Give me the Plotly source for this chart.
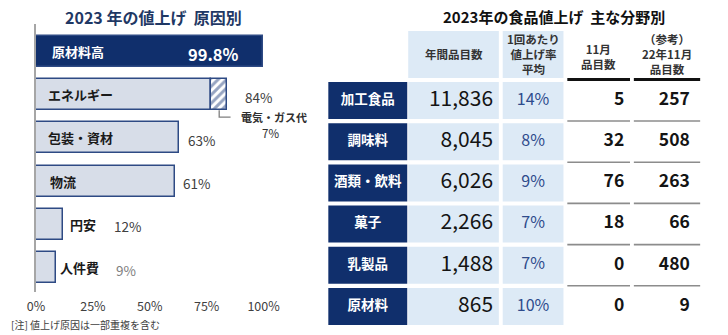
import plotly.graph_objects as go

# ---------------- data ----------------
cause_labels = ["原材料高", "エネルギー", "包装・資材", "物流", "円安", "人件費"]
cause_values = [99.8, 84, 63, 61, 12, 9]
energy_sub_label = "電気・ガス代"
energy_sub_value = 7
x_tick_vals = [0, 25, 50, 75, 100]
x_tick_text = ["0%", "25%", "50%", "75%", "100%"]

tbl_categories = ["加工食品", "調味料", "酒類・飲料", "菓子", "乳製品", "原材料"]
tbl_annual = [11836, 8045, 6026, 2266, 1488, 865]
tbl_rate = [14, 8, 9, 7, 7, 10]
tbl_nov = [5, 32, 76, 18, 0, 0]
tbl_ref22 = [257, 508, 263, 66, 480, 9]
tbl_headers = ["", "年間品目数", "1回あたり<br>値上げ率<br>平均", "11月<br>品目数", "（参考）<br>22年11月<br>品目数"]

left_title = "2023 年の値上げ  原因別"
right_title = "2023年の食品値上げ  主な分野別"
note_text = "[注] 値上げ原因は一部重複を含む"

# ---------------- styles ----------------
FONT = "Noto Sans CJK JP"
NAVY = "#102f6c"
BAR_FILL = "#d7dde8"
BAR_LINE = "#2e4a84"
LIGHT_BLUE = "#ddeaf6"
PCT_BLUE = "#2e4b8c"
W, H = 728, 335

def px_y(p):
    return 1 - p / H

fig = go.Figure()

# ---------- left chart ----------
idx = list(range(len(cause_labels)))
main_x = [v - energy_sub_value if i == 1 else v for i, v in enumerate(cause_values)]
fills = [NAVY] + [BAR_FILL] * (len(cause_labels) - 1)
fig.add_trace(go.Bar(
    x=main_x, y=idx, orientation="h", width=0.72,
    marker=dict(color=fills, line=dict(color=BAR_LINE, width=1.5)),
    hoverinfo="skip", xaxis="x", yaxis="y", showlegend=False))
fig.add_trace(go.Bar(
    x=[energy_sub_value], y=[1], base=[cause_values[1] - energy_sub_value],
    orientation="h", width=0.72,
    marker=dict(color="white", line=dict(color=BAR_LINE, width=1.5),
                pattern=dict(shape="/", fgcolor=BAR_LINE, bgcolor="white", size=6, solidity=0.5)),
    hoverinfo="skip", xaxis="x", yaxis="y", showlegend=False))

cat_inside = [True, True, True, True, False, False]
cat_shift = [14, 10, 10, 12, 5, 2]
val_shift = [-22, 16, 7, 6, 49, 58]
val_colors = ["white", "#404040", "#404040", "#404040", "#404040", "#808080"]
anns = []
for i, (lab, v) in enumerate(zip(cause_labels, cause_values)):
    anns.append(dict(
        x=0 if cat_inside[i] else v, y=i, xref="x", yref="y",
        text=f"<b>{lab}</b>", showarrow=False, xanchor="left", xshift=cat_shift[i],
        font=dict(family=FONT, size=13, color="white" if i == 0 else "#1a1a1a")))
    txt = f"{v}%" if i == 0 else f"{v:g}%"
    anns.append(dict(
        x=v, y=i + 0.05, xref="x", yref="y",
        text=f"<b>{txt}</b>" if i == 0 else txt, showarrow=False,
        xanchor="right" if i == 0 else "left", xshift=val_shift[i],
        font=dict(family=FONT, size=16.5 if i == 0 else 13.5, color=val_colors[i])))

# 電気・ガス代 callout (anchored at the energy bar end, shifted in pixels)
anns.append(dict(
    x=cause_values[1], y=1.52, xref="x", yref="y",
    text=f"<b>{energy_sub_label}</b>", showarrow=False,
    xanchor="center", yanchor="middle", xshift=47,
    font=dict(family=FONT, size=11, color="#303030")))
anns.append(dict(
    x=cause_values[1], y=1.88, xref="x", yref="y",
    text=f"{energy_sub_value}%", showarrow=False,
    xanchor="center", yanchor="middle", xshift=43,
    font=dict(family=FONT, size=11.5, color="#303030")))
conn_x0 = cause_values[1] - energy_sub_value / 2
fig.add_shape(type="path", xref="x", yref="y",
              path=f"M {conn_x0} 1.36 L {conn_x0} 1.52 L {cause_values[1] + 1.5} 1.52",
              line=dict(color="#7f7f7f", width=1.3))

anns.append(dict(x=150 / W, y=px_y(17), xref="paper", yref="paper", text=f"<b>{left_title}</b>",
                 showarrow=False, xanchor="center", yanchor="middle",
                 font=dict(family=FONT, size=16, color="#1f3864")))
anns.append(dict(x=0, y=px_y(324), xref="paper", yref="paper", text=note_text,
                 showarrow=False, xanchor="left", yanchor="middle",
                 font=dict(family=FONT, size=10, color="#404040")))

# ---------- right table ----------
col_bounds = [(0, 82), (83, 177), (181, 244), (248, 313), (317, 386)]
HEADER_H = 47
ROW_TOP0 = 51
ROW_PITCH = 41.2
ROW_H = 37
TBL_W = 386
TBL_H = 294

shapes = []
for c in (1, 2):
    x0, x1 = col_bounds[c]
    shapes.append(dict(type="rect", xref="x2", yref="y2", x0=x0, x1=x1, y0=0, y1=HEADER_H,
                       fillcolor=LIGHT_BLUE, line=dict(width=0), layer="below"))
for c in (3, 4):
    x0, x1 = col_bounds[c]
    shapes.append(dict(type="line", xref="x2", yref="y2", x0=x0, x1=x1, y0=HEADER_H + 1.5, y1=HEADER_H + 1.5,
                       line=dict(color="#111111", width=3)))

n = len(tbl_categories)
row_centers = []
for r in range(n):
    top = ROW_TOP0 + r * ROW_PITCH
    bot = top + ROW_H
    row_centers.append((top + bot) / 2)
    x0, x1 = col_bounds[0]
    shapes.append(dict(type="rect", xref="x2", yref="y2", x0=x0, x1=x1, y0=top, y1=bot,
                       fillcolor=NAVY, line=dict(width=0), layer="below"))
    for c in (1, 2):
        x0, x1 = col_bounds[c]
        shapes.append(dict(type="rect", xref="x2", yref="y2", x0=x0, x1=x1, y0=top, y1=bot,
                           fillcolor=LIGHT_BLUE, line=dict(width=0), layer="below"))
    if r < n - 1:
        for c in (3, 4):
            x0, x1 = col_bounds[c]
            shapes.append(dict(type="line", xref="x2", yref="y2", x0=x0, x1=x1, y0=bot + 2, y1=bot + 2,
                               line=dict(color="#8c8c8c", width=1.6)))
for s in shapes:
    fig.add_shape(**s)

for c in range(1, 5):
    x0, x1 = col_bounds[c]
    anns.append(dict(x=(x0 + x1) / 2, y=HEADER_H / 2 if c != 3 else HEADER_H / 2 + 2,
                     xref="x2", yref="y2", text=f"<b>{tbl_headers[c]}</b>",
                     showarrow=False, xanchor="center", yanchor="middle", align="center",
                     font=dict(family=FONT, size=11.5, color="#333333")))

def text_trace(xs, ys, texts, pos, size, color):
    fig.add_trace(go.Scatter(x=xs, y=ys, text=texts, mode="text", textposition=pos,
                             textfont=dict(family=FONT, size=size, color=color),
                             xaxis="x2", yaxis="y2", hoverinfo="skip", showlegend=False,
                             cliponaxis=False))

text_trace([41] * n, row_centers, [f"<b>{t}</b>" for t in tbl_categories], "middle center", 13.5, "white")
text_trace([col_bounds[1][1] - 6] * n, row_centers, [f"{v:,}" for v in tbl_annual], "middle left", 21, "#141414")
text_trace([(col_bounds[2][0] + col_bounds[2][1]) / 2] * n, row_centers, [f"{v}%" for v in tbl_rate],
           "middle center", 16, PCT_BLUE)
text_trace([col_bounds[3][1] - 6] * n, row_centers, [f"<b>{v:,}</b>" for v in tbl_nov], "middle left", 17.5, "#141414")
text_trace([col_bounds[4][1] - 11] * n, row_centers, [f"<b>{v:,}</b>" for v in tbl_ref22], "middle left", 17.5, "#141414")

anns.append(dict(x=565 / W, y=px_y(16), xref="paper", yref="paper", text=f"<b>{right_title}</b>",
                 showarrow=False, xanchor="center", yanchor="middle",
                 font=dict(family=FONT, size=15, color="#111111")))

# ---------- layout ----------
y_top_px, y_bot_px = 24, 292
c0, pitch = 51.5, 43.2
fig.update_layout(
    width=W, height=H, margin=dict(l=0, r=0, t=0, b=0),
    paper_bgcolor="white", plot_bgcolor="white", barmode="overlay", bargap=0,
    xaxis=dict(domain=[28 / W, 264 / W], range=[0, 100], tickvals=x_tick_vals, ticktext=x_tick_text,
               showgrid=False, zeroline=False, showline=False, ticks="", fixedrange=True,
               ticklabelstandoff=5,
               tickfont=dict(family=FONT, size=12.5, color="#404040")),
    yaxis=dict(domain=[px_y(y_bot_px), px_y(y_top_px)],
               range=[5 + (y_bot_px - (c0 + 5 * pitch)) / pitch, -(c0 - y_top_px) / pitch],
               showgrid=False, zeroline=False, showticklabels=False, ticks="",
               showline=True, linecolor="#a6a6a6", linewidth=2),
    xaxis2=dict(domain=[331 / W, 717 / W], range=[0, TBL_W], visible=False, anchor="y2"),
    yaxis2=dict(domain=[px_y(31 + TBL_H), px_y(31)], range=[TBL_H, 0], visible=False, anchor="x2"),
    annotations=anns,
    font=dict(family=FONT),
)

fig.write_html("out.html")
